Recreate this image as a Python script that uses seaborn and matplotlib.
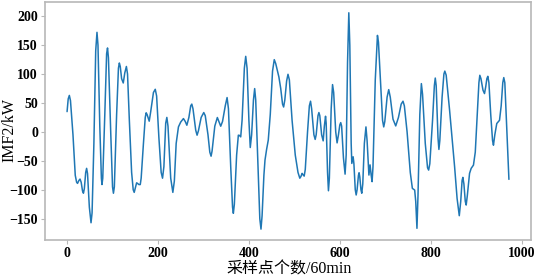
import numpy as np
import pandas as pd
import matplotlib
matplotlib.use('Agg')
import matplotlib.pyplot as plt
import seaborn as sns

# points (sample index, IMF2 value)
sample_idx = [0, 2.5, 5, 7.5, 13, 18, 21, 23, 26, 28.5, 31, 34, 36, 38, 41, 43, 45, 49, 52.7, 55,
              59, 63, 65.8, 68, 72, 75.5, 76.8, 78.5, 83, 87, 89, 91, 96, 100, 102, 104, 109,
              113, 115, 117, 120, 123.6, 127, 130.5, 133, 137, 142, 145.5, 147.7, 150, 153,
              155, 158, 161, 163, 168, 172, 174, 176, 180.7, 184, 190, 194, 197, 202, 207,
              210, 213, 217, 219.5, 222, 228, 232.7, 236, 240, 245, 250, 256, 260, 263.5,
              268, 272, 274.4, 277, 283, 286, 289, 295, 300.7, 304, 310, 314, 316.8, 319,
              325, 330.6, 334, 338, 342, 348, 352, 355, 360, 364, 365.8, 368, 373, 376.8,
              379, 382, 385, 390, 393, 396, 400, 403, 406, 410, 412.7, 415, 420, 424, 426.6,
              429, 433, 435.4, 439, 442.6, 447, 452, 455.8, 459, 463, 466, 470, 474, 476.4,
              479, 483, 486, 489, 495, 502, 508, 512, 514.5, 517, 519, 521.6, 524, 529, 533,
              535.6, 538, 543, 545.8, 548, 552, 554, 556, 560, 563.4, 566, 568.6, 570, 573,
              575, 577, 581, 584, 586.5, 591, 594, 597, 600, 602, 604, 608, 611.6, 614, 617,
              619.8, 622, 625, 626.4, 628, 629.3, 631, 634, 636, 638, 641, 642.4, 644, 646.5,
              648.3, 650.5, 654, 657.5, 660, 664, 666.5, 669, 671, 673, 678, 682.8, 685, 690,
              694, 696.6, 699, 704, 707.6, 711, 717, 723, 729, 735, 739, 742, 748, 755, 759.6,
              764.7, 767, 769.7, 772, 776, 779.4, 782, 788, 793, 795.4, 798, 804, 808, 810,
              812, 816, 818, 820, 825, 829, 831, 834, 841.5, 852.5, 858, 862.8, 866, 869,
              870.7, 873, 876, 878, 880.5, 885.4, 889, 894, 898, 903, 906, 908, 910.5, 915,
              918.3, 921, 923.5, 925.6, 928, 932, 936, 938, 941, 945.3, 951.3, 955, 958.5,
              960.7, 963, 967, 972]
imf2_kw = [35, 57, 63, 54, -5, -75, -87, -89, -84, -81.5, -87, -102, -106, -98, -70, -63, -72,
           -130, -157, -140, -20, 140, 172, 150, 10, -80, -91, -80, 30, 135, 145, 128, 0, -95,
           -106, -95, 30, 110, 119, 113, 92, 84.5, 102, 113, 100, 20, -70, -100, -104.5, -97,
           -88, -89, -91, -91, -80, -20, 25, 33, 30, 18.5, 35, 68, 73.6, 62, -10, -70,
           -80, -60, 15, 25, 10, -80, -104.5, -85, -20, 8.6, 17, 23, 18, 11.5,
           25, 45, 48, 40, 3, -5.7, 2, 25, 33.4, 28, -5, -35, -42, -33,
           10, 24.8, 18, 9.8, 18, 45, 59.3, 40, -60, -130, -140.7, -125, -40, -5.7,
           -6, -8.6, 20, 110, 130.5, 110, 20, -27, -5, 55, 74.8, 55, -60, -150, -168,
           -145, -75, -48.8, -30, -14.3, 30, 105, 124.8, 118, 105, 94.8, 75, 48, 43,
           55, 88, 99.5, 90, 20, -40, -70, -80, -77, -71.7, -74, -76.4, -65, 0, 45,
           53, 40, -5, -13, -5, 28, 33.4, 28, -5, -15.5, 10, 27, 15, -70,
           -101.7, -80, 40, 81.7, 68, 0, -19, -5, 12, 16, 10, -45, -73, -40, 120,
           205.8, 150, -20, -54.5, -48, -43, -55, -100, -109, -100, -75, -70.6, -78, -100,
           -106, -90, -20, 8.6, -15, -74.6, -57, -75, -86, -60, 90, 166.7, 155, 80,
           20, 8.6, 18, 60, 73, 60, 22, 10.3, 25, 48, 53, 45, 0, -70, -97.6,
           -100.5, -120, -166.6, -110, 30, 83.4, 65, -20, -62, -66, -55, 20, 80, 93,
           80, -10, -30.3, -15, 60, 100, 105, 98, 37.4, -60, -115, -144.8, -120, -84,
           -78.6, -90, -120, -126.4, -110, -71.7, -63, -57.4, -35, 40, 85, 97.8, 92, 72,
           66.2, 78, 92, 96, 85, 30, -15, -23, -5, 14.5, 20, 45, 85,
           93.8, 85, 10, -82]

df = pd.DataFrame({'idx': sample_idx, 'val': imf2_kw})

sns.set_style('ticks', {'axes.edgecolor': '0.72', 'xtick.color': '0.72', 'ytick.color': '0.72'})
plt.rcParams['font.family'] = ['Liberation Serif', 'Noto Sans CJK SC', 'DejaVu Sans']

fig = plt.figure(figsize=(5.38, 2.79), dpi=100)
ax = fig.add_axes([0.0836, 0.140, 0.9034, 0.853])
sns.lineplot(data=df, x='idx', y='val', ax=ax, color='#1f77b4', linewidth=1.1)

ax.set_xticks([0, 200, 400, 600, 800, 1000])
ax.set_yticks([-150, -100, -50, 0, 50, 100, 150, 200])
ax.tick_params(labelsize=10, labelcolor='black', length=3, pad=2)
for lab in ax.get_xticklabels() + ax.get_yticklabels():
    lab.set_fontweight('bold')
for s in ax.spines.values():
    s.set_linewidth(1.2)
ax.set_xlabel('采样点个数/60min', fontsize=11.5, color='black')
ax.set_ylabel('IMF2/kW', fontsize=11.5, color='black')
ax.xaxis.set_label_coords(0.502, -0.09)
ax.yaxis.set_label_coords(-0.056, 0.46)

fig.savefig('out.png', dpi=100)
